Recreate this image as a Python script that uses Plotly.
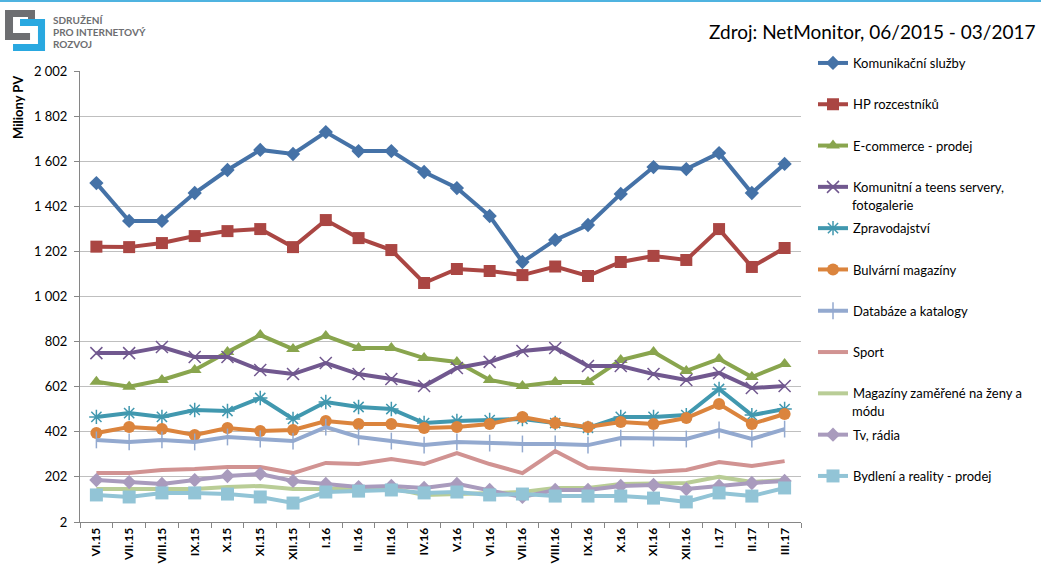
import plotly.graph_objects as go

categories = ["VI.15", "VII.15", "VIII.15", "IX.15", "X.15", "XI.15", "XII.15",
              "I.16", "II.16", "III.16", "IV.16", "V.16", "VI.16", "VII.16", "VIII.16",
              "IX.16", "X.16", "XI.16", "XII.16", "I.17", "II.17", "III.17"]

komunikacni = [1505, 1337, 1337, 1461, 1563, 1652, 1634, 1731, 1647, 1647, 1554, 1483,
               1359, 1155, 1253, 1319, 1457, 1576, 1567, 1638, 1461, 1590]
hp_rozcestniky = [1223, 1221, 1239, 1270, 1292, 1301, 1221, 1341, 1261, 1208, 1062, 1124,
                  1115, 1097, 1135, 1093, 1155, 1182, 1164, 1301, 1133, 1217]
ecommerce = [624, 602, 632, 676, 756, 831, 769, 827, 774, 774, 729, 712,
             632, 605, 623, 623, 720, 756, 672, 725, 645, 703]
komunitni = [751, 751, 778, 734, 734, 676, 658, 707, 658, 636, 605, 685,
             712, 760, 774, 694, 694, 658, 632, 663, 596, 605]
zpravodajstvi = [468, 485, 468, 499, 494, 552, 459, 534, 512, 503, 441, 450,
                 454, 459, 441, 419, 468, 468, 476, 592, 476, 503]
bulvarni = [397, 423, 414, 388, 419, 406, 410, 450, 437, 437, 419, 423,
            437, 468, 441, 423, 445, 437, 463, 525, 437, 481]
databaze = [366, 357, 366, 357, 379, 370, 361, 423, 379, 361, 343, 357,
            352, 348, 348, 343, 374, 374, 370, 410, 370, 414]
sport = [219, 219, 233, 237, 246, 246, 219, 264, 259, 281, 259, 308,
         259, 219, 317, 241, 233, 224, 233, 268, 250, 272]
magaziny = [148, 148, 148, 148, 157, 162, 148, 148, 153, 153, 122, 126,
            131, 135, 153, 153, 171, 175, 175, 202, 179, 188]
tv_radia = [188, 179, 171, 188, 206, 215, 184, 171, 157, 162, 153, 171,
            144, 113, 144, 144, 162, 166, 148, 162, 175, 184]
bydleni = [122, 113, 131, 131, 126, 113, 86, 135, 139, 144, 131, 135,
           122, 126, 117, 117, 117, 108, 91, 131, 117, 153]

y_ticks = [2, 202, 402, 602, 802, 1002, 1202, 1402, 1602, 1802, 2002]
y_tick_labels = ["2", "202", "402", "602", "802", "1 002", "1 202", "1 402", "1 602", "1 802", "2 002"]

# (legend first line, continuation line or None, values, colour, symbol, size, marker line width)
series = [
    ("Komunikační služby", None, komunikacni, "#4572A7", "diamond", 11, 0),
    ("HP rozcestníků", None, hp_rozcestniky, "#AA4643", "square", 12, 0),
    ("E-commerce - prodej", None, ecommerce, "#89A54E", "triangle-up", 12, 0),
    ("Komunitní a teens servery,", "fotogalerie", komunitni, "#71588F", "x-thin-open", 12, 1.5),
    ("Zpravodajství", None, zpravodajstvi, "#4198AF", "asterisk-open", 12, 1.5),
    ("Bulvární magazíny", None, bulvarni, "#DB843D", "circle", 12, 0),
    ("Databáze a katalogy", None, databaze, "#93A9CF", "line-ns-open", 12, 1.5),
    ("Sport", None, sport, "#D19392", None, 0, 0),
    ("Magazíny zaměřené na ženy a", "módu", magaziny, "#B9CD96", None, 0, 0),
    ("Tv, rádia", None, tv_radia, "#A99BBD", "diamond", 11, 0),
    ("Bydlení a reality - prodej", None, bydleni, "#92C4D6", "square", 13, 0),
]

FONT = "Lato, 'Open Sans', sans-serif"

W, H = 1041, 566
L, R, T, B = 80, 801, 71, 522
LEG_TOP = 48
LEG_STEP = 41.3
LEG_FIRST = 63


def px(x):
    return (x - L) / (R - L)


def py(y):
    return (B - y) / (B - T)


def path(points):
    return "M " + " L ".join("%.4f,%.4f" % (px(a), py(b)) for a, b in points) + " Z"


fig = go.Figure()
annotations = []
for i, (name, cont, vals, color, sym, size, lw) in enumerate(series):
    if sym is None:
        mode = "lines"
        marker = None
    else:
        mode = "lines+markers"
        marker = dict(symbol=sym, size=size, color=color, line=dict(color=color, width=lw))
    full_name = name if cont is None else name + " " + cont
    fig.add_trace(go.Scatter(
        x=categories, y=vals, name=name, mode=mode,
        line=dict(color=color, width=4),
        marker=marker, legendgroup="g%d" % i,
        hovertemplate=full_name + "<br>%{x}: %{y}<extra></extra>",
    ))
    if cont is not None:
        annotations.append(dict(text=cont, xref="paper", yref="paper",
                                x=px(850), y=py(LEG_FIRST + i * LEG_STEP + 18),
                                xanchor="left", yanchor="middle", showarrow=False,
                                font=dict(family=FONT, size=13, color="#000000")))

shapes = [
    dict(type="rect", xref="paper", yref="paper", x0=px(0), x1=px(W), y0=py(0), y1=py(2),
         fillcolor="#4FB3E0", line=dict(width=0)),
    dict(type="path", xref="paper", yref="paper",
         path=path([(5, 10), (35, 10), (35, 23), (28, 23), (28, 17), (13, 17), (13, 33),
                    (30, 33), (30, 40), (5, 40)]),
         fillcolor="#6D6E71", line=dict(width=0)),
    dict(type="path", xref="paper", yref="paper",
         path=path([(20, 19), (45, 19), (45, 51), (13, 51), (13, 44), (38, 44), (38, 26), (20, 26)]),
         fillcolor="#29A8E0", line=dict(width=0)),
]

annotations += [
    dict(text="Zdroj: NetMonitor, 06/2015 - 03/2017", xref="paper", yref="paper",
         x=px(1038), y=py(31), xanchor="right", yanchor="middle", showarrow=False,
         font=dict(family=FONT, size=19, color="#000000")),
    dict(text="<b>Miliony PV</b>", xref="paper", yref="paper", x=px(18), y=py(107),
         xanchor="center", yanchor="middle", textangle=-90, showarrow=False,
         font=dict(family=FONT, size=13, color="#000000")),
]
for txt, yy in [("SDRUŽENÍ", 20), ("PRO INTERNETOVÝ", 32), ("ROZVOJ", 44)]:
    annotations.append(dict(text="<b>%s</b>" % txt, xref="paper", yref="paper",
                            x=px(51), y=py(yy), xanchor="left", yanchor="middle",
                            showarrow=False,
                            font=dict(family=FONT, size=10, color="#6D6E71")))

fig.update_layout(
    width=W, height=H,
    margin=dict(l=L, r=W - R, t=T, b=H - B, pad=0),
    paper_bgcolor="white", plot_bgcolor="white",
    font=dict(family=FONT, size=13, color="#000000"),
    showlegend=True,
    legend=dict(x=px(813), y=py(LEG_TOP), xanchor="left", yanchor="top",
                traceorder="grouped", tracegroupgap=21.4, valign="middle",
                font=dict(family=FONT, size=13, color="#000000"),
                bgcolor="rgba(0,0,0,0)", itemwidth=30, maxheight=560),
    shapes=shapes,
    annotations=annotations,
    xaxis=dict(type="category", tickangle=-90, showgrid=False, automargin=False,
               showline=True, linecolor="#868686", linewidth=1,
               ticks="outside", tickson="boundaries", ticklen=5, tickcolor="#868686",
               tickfont=dict(family=FONT, size=12, color="#000000", weight="bold"),
               range=[-0.5, len(categories) - 0.5]),
    yaxis=dict(range=[2, 2002], tickvals=y_ticks, ticktext=y_tick_labels,
               showgrid=True, gridcolor="#BFBFBF", gridwidth=1, zeroline=False,
               showline=True, linecolor="#868686", linewidth=1,
               ticks="outside", ticklen=5, tickcolor="#868686", automargin=False,
               ticklabelstandoff=4,
               tickfont=dict(family=FONT, size=13, color="#000000")),
)

fig.write_html("out.html", config={"displayModeBar": False},
               post_script="document.body.style.margin='0';")
